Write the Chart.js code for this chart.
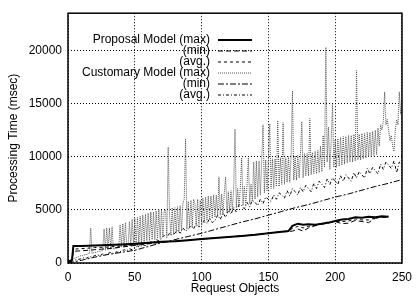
<!DOCTYPE html>
<html>
<head>
<meta charset="utf-8">
<script src="https://cdn.jsdelivr.net/npm/chart.js@4.4.1/dist/chart.umd.min.js"></script>
<style>
html, body { margin: 0; padding: 0; background: #fff; }
</style>
</head>
<body>
<canvas id="graf" width="419" height="296"></canvas>
<script>
// Proposal Model (max / min / avg.)
var prop_x = [0, 3, 4, 10, 20, 30, 40, 50, 60, 70, 80, 90, 100, 110, 120, 130, 140, 150, 160, 165, 168, 172, 176, 180, 185, 190, 195, 200, 205, 210, 215, 220, 225, 230, 235, 240];
var prop_max = [100, 300, 1600, 1600, 1650, 1700, 1750, 1800, 1900, 2000, 2050, 2150, 2250, 2350, 2450, 2550, 2650, 2800, 2950, 3000, 3500, 3700, 3600, 3650, 3600, 3700, 3800, 3950, 4100, 4150, 4300, 4250, 4350, 4300, 4400, 4350];
var prop_min = [0, 200, 1100, 1150, 1250, 1350, 1500, 1650, 1800, 1950, 2050, 2150, 2250, 2350, 2450, 2550, 2650, 2800, 2950, 2950, 3000, 3200, 3000, 3300, 3500, 3650, 3750, 3900, 3700, 3750, 4000, 3900, 3800, 4200, 4300, 4300];
var prop_avg = [50, 250, 1300, 1350, 1450, 1500, 1600, 1700, 1850, 1980, 2050, 2150, 2250, 2350, 2450, 2550, 2650, 2800, 2950, 2980, 3250, 3450, 3300, 3450, 3550, 3680, 3780, 3920, 3900, 3950, 4150, 4050, 4050, 4250, 4350, 4320];

// Customary Model (max) - one value per request object (1..250)
var cust_max = [
  150, 250, 350, 400, 450, 500, 550, 600, 650, 700,
  700, 750, 800, 800, 850, 900, 3300, 900, 950, 1000,
  1000, 1050, 1100, 1100, 1150, 1200, 3200, 1200, 3300, 1250,
  3300, 1300, 3400, 1300, 1350, 1400, 1400, 1450, 3600, 1500,
  3700, 1500, 3800, 1550, 1600, 3900, 1650, 4100, 1700, 4200,
  1750, 4300, 1800, 4400, 1900, 4500, 2000, 4600, 2100, 4700,
  2100, 4800, 2200, 4800, 2200, 4900, 2300, 5000, 2300, 5000,
  2400, 4900, 5000, 2500, 10900, 4500, 2600, 5200, 2700, 5200,
  2800, 5300, 2900, 5400, 3000, 5600, 6000, 11700, 3200, 5800,
  3300, 5900, 3400, 6000, 5600, 3500, 6000, 3600, 5900, 3700,
  6100, 3800, 6200, 4000, 6300, 4100, 6300, 4200, 6400, 4300,
  6400, 4400, 8100, 4500, 6500, 4600, 6600, 8100, 4700, 6700,
  4800, 6800, 5000, 6900, 12600, 5200, 7000, 5300, 7100, 9900,
  5400, 7200, 5500, 7300, 9900, 5600, 7400, 5800, 9500, 6000,
  9600, 6200, 9600, 6400, 9700, 13000, 6600, 9700, 6800, 9800,
  13100, 7000, 9800, 7000, 9800, 7200, 13400, 7200, 9900, 7400,
  13200, 7400, 9900, 7600, 10000, 7600, 10000, 16200, 7800, 10100,
  7800, 10100, 8000, 10200, 13300, 8000, 10300, 8200, 10300, 8200,
  13600, 8300, 10400, 8400, 10500, 8400, 10600, 8500, 11000, 8600,
  12000, 9000, 20300, 9500, 12800, 8800, 11500, 14900, 9000, 11600,
  9000, 11700, 9100, 11800, 9200, 11900, 9300, 11900, 9400, 12000,
  9500, 12000, 9500, 12100, 9600, 18100, 9700, 12100, 9700, 12200,
  9800, 12200, 9900, 12300, 10000, 12300, 10000, 12400, 10100, 12500,
  10200, 12700, 11000, 13000, 12500, 13300, 16100, 13000, 13500, 12500,
  11500, 12000, 11000, 10500, 12500, 13500, 13000, 16100, 14000, 15300
];

// Customary Model (min) - every 10 objects
var cust_min_x = [0, 10, 20, 30, 40, 50, 60, 70, 80, 90, 100, 110, 120, 130, 140, 150, 160, 170, 180, 190, 200, 210, 220, 230, 240, 250];
var cust_min = [0, 250, 550, 800, 1000, 1200, 1550, 1900, 2200, 2500, 2800, 3150, 3500, 3850, 4150, 4500, 4850, 5200, 5500, 5850, 6200, 6500, 6850, 7200, 7500, 7850];

// Customary Model (avg.) - every 2 objects (2..250)
var cust_avg = [
  100, 250, 300, 350, 400, 500, 450, 600, 550, 700,
  750, 700, 850, 800, 900, 1000, 900, 1050, 1000, 1100,
  1250, 1150, 1350, 1250, 1400, 1600, 1500, 1700, 1650, 1800,
  2000, 1900, 2200, 2100, 2300, 2600, 2400, 2800, 2600, 2800,
  3100, 2800, 3300, 3000, 3200, 3500, 3200, 3700, 3400, 3600,
  4000, 3700, 4200, 3800, 4000, 4500, 4100, 4700, 4300, 4900,
  4600, 5200, 4800, 5500, 5400, 5100, 5700, 5300, 5900, 5700,
  5400, 6000, 5600, 6200, 6000, 5800, 6400, 6000, 6600, 6400,
  6100, 6800, 6300, 7000, 6700, 6400, 7100, 6700, 7300, 7000,
  6700, 7500, 7000, 7700, 7400, 7100, 7900, 7400, 8000, 7700,
  7400, 8200, 7700, 8300, 8000, 7700, 8500, 8000, 8600, 8300,
  8000, 8900, 8400, 9000, 8700, 8400, 9300, 8800, 9500, 9200,
  8900, 9600, 8500, 9500, 9300
];

var y_ticks = [0, 5000, 10000, 15000, 20000];
var rotulos = ['Proposal Model (max)', '(min)', '(avg.)', 'Customary Model (max)', '(min)', '(avg.)'];

function pontos(xs, ys) {
  return ys.map(function (v, i) { return { x: xs[i], y: v }; });
}
var cust_max_x = cust_max.map(function (v, i) { return i + 1; });
var cust_avg_x = cust_avg.map(function (v, i) { return (i + 1) * 2; });

var fonte = '"Liberation Sans", Arial, Helvetica, sans-serif';

// legenda desenhada a mao (texto a direita, amostra da linha depois)
var legenda = {
  id: 'legenda',
  afterDatasetsDraw: function (chart) {
    var ctx = chart.ctx;
    ctx.save();
    ctx.font = '12px ' + fonte;
    ctx.textAlign = 'right';
    ctx.textBaseline = 'middle';
    ctx.fillStyle = '#000';
    chart.data.datasets.forEach(function (ds, i) {
      var y = 40 + i * 11;
      ctx.fillText(rotulos[i], 210, y);
      ctx.strokeStyle = ds.borderColor;
      ctx.lineWidth = ds.borderWidth;
      ctx.setLineDash(ds.borderDash || []);
      ctx.beginPath();
      ctx.moveTo(218, y);
      ctx.lineTo(252, y);
      ctx.stroke();
    });
    ctx.restore();
  }
};

// moldura em volta da area do grafico
var moldura = {
  id: 'moldura',
  afterDraw: function (chart) {
    var a = chart.chartArea, ctx = chart.ctx;
    ctx.save();
    ctx.strokeStyle = '#000';
    ctx.lineWidth = 1.5;
    ctx.strokeRect(a.left, a.top, a.right - a.left, a.bottom - a.top);
    ctx.restore();
  }
};

var graf = new Chart(document.getElementById('graf'), {
  type: 'line',
  data: {
    datasets: [{
      label: rotulos[0],
      data: pontos(prop_x, prop_max),
      borderColor: '#000',
      borderWidth: 2
    }, {
      label: rotulos[1],
      data: pontos(prop_x, prop_min),
      borderColor: '#000',
      borderWidth: 1,
      borderDash: [5, 3]
    }, {
      label: rotulos[2],
      data: pontos(prop_x, prop_avg),
      borderColor: '#000',
      borderWidth: 1,
      borderDash: [3, 3]
    }, {
      label: rotulos[3],
      data: pontos(cust_max_x, cust_max),
      borderColor: '#555',
      borderWidth: 1,
      borderDash: [1, 1]
    }, {
      label: rotulos[4],
      data: pontos(cust_min_x, cust_min),
      borderColor: '#000',
      borderWidth: 1,
      borderDash: [6, 2, 2, 2]
    }, {
      label: rotulos[5],
      data: pontos(cust_avg_x, cust_avg),
      borderColor: '#000',
      borderWidth: 1,
      borderDash: [3, 2, 1, 2]
    }]
  },
  options: {
    responsive: false,
    animation: false,
    layout: { padding: { top: 13, right: 10, left: 0, bottom: 0 } },
    elements: { point: { radius: 0 }, line: { tension: 0, fill: false } },
    plugins: { legend: { display: false }, tooltip: { enabled: false } },
    scales: {
      x: {
        type: 'linear',
        min: 0,
        max: 250,
        afterFit: function (s) { s.height = 33; },
        ticks: { stepSize: 50, padding: 7, color: '#000', font: { family: fonte, size: 12 } },
        grid: { color: '#000', drawTicks: false },
        border: { display: false, dash: [1, 2] },
        title: { display: true, text: 'Request Objects', color: '#000', font: { family: fonte, size: 12 }, padding: { top: 3, bottom: 0 } }
      },
      y: {
        min: 0,
        max: 23500,
        afterFit: function (s) { s.width = 68; },
        afterBuildTicks: function (s) {
          s.ticks = y_ticks.map(function (v) { return { value: v }; });
        },
        ticks: {
          padding: 6, color: '#000', font: { family: fonte, size: 12 },
          callback: function (v) { return String(v); }
        },
        grid: { color: '#000', drawTicks: false },
        border: { display: false, dash: [1, 2] },
        title: { display: true, text: 'Processing Time (msec)', color: '#000', font: { family: fonte, size: 12 }, padding: { top: 6, bottom: 0 } }
      }
    }
  },
  plugins: [legenda, moldura]
});
</script>
</body>
</html>
